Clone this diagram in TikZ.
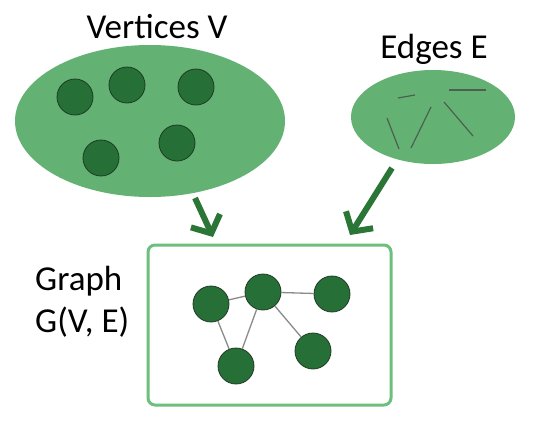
\documentclass[tikz,border=0pt]{standalone}
\usepackage{fontspec}
\setmainfont{Carlito}
\usetikzlibrary{arrows.meta}
\definecolor{setfill}{HTML}{63B274}
\definecolor{vfill}{HTML}{267038}
\definecolor{vline}{HTML}{1E3A24}
\definecolor{boxline}{HTML}{6DBF7D}
\definecolor{arrowcol}{HTML}{2B7636}
\definecolor{edgegray}{HTML}{8A8A8A}
\tikzset{
  setell/.style={ellipse, fill=setfill, draw=none, inner sep=0pt},
  vert/.style={circle, fill=vfill, draw=vline, line width=0.8pt, minimum size=36pt, inner sep=0pt},
  gedge/.style={draw=edgegray, line width=1.3pt},
  sedge/.style={draw=vline!80, line width=1.2pt},
  bigarrow/.style={draw=arrowcol, line width=6pt, -{Straight Barb[length=14pt, width=32pt]}},
  lbl/.style={font=\fontsize{35}{42}\selectfont, inner sep=0pt},
}
\begin{document}
\begin{tikzpicture}[x=1pt, y=-1pt]
\useasboundingbox (0,0) rectangle (549,429);
% sets
\fill[setfill] (150,121) ellipse [x radius=135, y radius=76];
\coordinate (V) at (150,121);
\fill[setfill] (433,117) ellipse [x radius=82, y radius=47];
\coordinate (E) at (433,117);
\node[lbl, anchor=base] (vlabel) at (157,38) {Vertices V};
\node[lbl, anchor=base] (elabel) at (434,58) {Edges E};
% vertices in set
\node[vert] (v1) at (75,97) {};
\node[vert] (v2) at (127,85) {};
\node[vert] (v3) at (196,87) {};
\node[vert] (v4) at (101,158) {};
\node[vert] (v5) at (177,143) {};
% edges in set
\draw[sedge] (398,98) -- (415,95);
\draw[sedge] (449,90) -- (486,90);
\draw[sedge] (387,118) -- (399,149);
\draw[sedge] (431,107) -- (411,148);
\draw[sedge] (444,102) -- (473,136);
% arrows
\coordinate (a1s) at (195,198);
\coordinate (a1e) at (213,237);
\coordinate (a2s) at (392,168);
\coordinate (a2e) at (350,235);
\draw[bigarrow] (a1s) -- (a1e);
\draw[bigarrow] (a2s) -- (a2e);
% graph box
\draw[boxline, line width=3pt, rounded corners=7pt] (148,245) rectangle (391,405);
\node[lbl, anchor=base west] (g1) at (35,290) {Graph};
\node[lbl, anchor=base west] (g2) at (35,332) {G(V, E)};
% graph
\node[vert] (a) at (211,304) {};
\node[vert] (b) at (263,292) {};
\node[vert] (c) at (332,294) {};
\node[vert] (d) at (236,366) {};
\node[vert] (e) at (313,351) {};
\begin{scope}[on background layer/.try]
\end{scope}
\draw[gedge] (a) -- (b);
\draw[gedge] (b) -- (c);
\draw[gedge] (a) -- (d);
\draw[gedge] (b) -- (d);
\draw[gedge] (b) -- (e);
\end{tikzpicture}
\end{document}
